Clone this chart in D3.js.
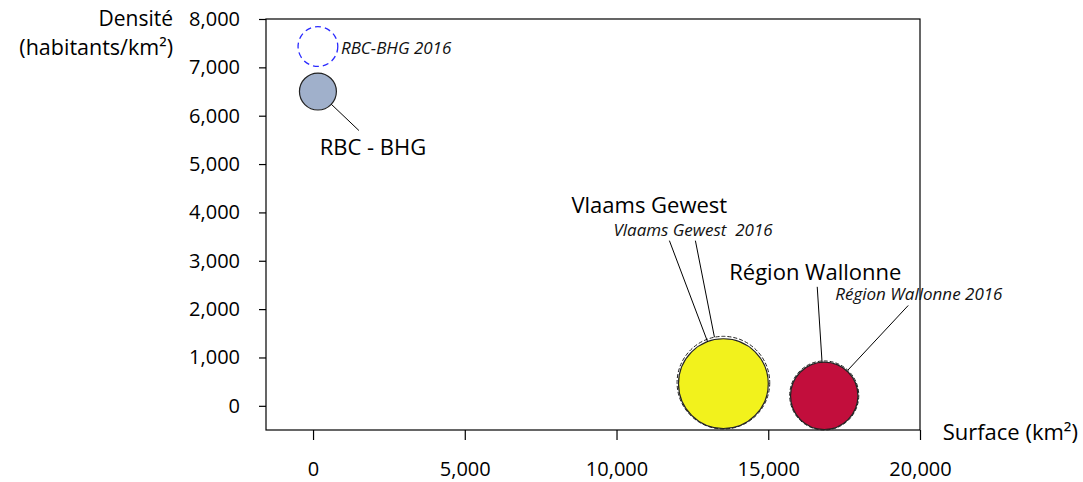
<!DOCTYPE html>
<html>
  <head>
    <style>
      body {margin: 0; background: #fff;}
      * {font-family: "Open Sans", sans-serif;}
    </style>
    <script src="https://d3js.org/d3.v7.min.js"></script>
  </head>
  <body>
    <div id="chart"></div>
    <script>
      // data
      const regions     = ["RBC - BHG", "Vlaams Gewest", "Région Wallonne"]
      const labels2016  = ["RBC-BHG 2016", "Vlaams Gewest\u00a0 2016", "Région Wallonne 2016"]
      const surface     = [161, 13522, 16844]        // km²
      const densityBase = [6500, 459, 207]           // habitants/km²
      const density2016 = [7430, 479, 214]
      const popBase     = [1.03, 6.08, 3.43]         // millions
      const pop2016     = [1.19, 6.48, 3.60]
      const fills       = ["#a0b0cb", "#f2f21c", "#c20e3c"]
      const xTicks = [0, 5000, 10000, 15000, 20000]
      const yTicks = [0, 1000, 2000, 3000, 4000, 5000, 6000, 7000, 8000]

      var w = 1083, h = 482
      margin = ({top: 19, right: 163, bottom: 52, left: 266})

      const x = d3.scaleLinear().domain([-1550, 20000]).range([margin.left, w - margin.right])
      const y = d3.scaleLinear().domain([-500, 8000]).range([h - margin.bottom, margin.top])
      const r = d3.scaleSqrt().domain([0, 1]).range([0, 18.2])

      // label / leader layout, offsets in px from the bubble centre
      const nameOff   = [[55, 63, "middle"], [-152, -171, "start"], [-95, -116, "start"]]
      const yearOff   = [[23, 7], [-110, -147], [11, -95]]
      const leadBase  = [[41, 39], [-54, -143], [-7, -109]]
      const lead2016  = [null, [-28, -142], [84, -90]]

      var svg = d3.select("#chart").append("svg")
        .attr("width", w).attr("height", h)

      // plot box
      svg.append("rect")
        .attr("x", margin.left).attr("y", margin.top)
        .attr("width", w - margin.right - margin.left)
        .attr("height", h - margin.bottom - margin.top)
        .style("fill", "none").style("stroke", "#000").style("stroke-width", 1.2)

      // y axis
      const yAxis = svg.append("g")
        .attr("transform", "translate(" + margin.left + ",0)")
        .call(d3.axisLeft(y).tickValues(yTicks).tickSize(7).tickPadding(19).tickFormat(d3.format(",")))
      yAxis.select(".domain").remove()
      yAxis.selectAll("text").style("font-size", "20px").style("fill", "#000")
      yAxis.selectAll("line").style("stroke", "#000").style("stroke-width", 1.2)

      // x axis
      const xAxis = svg.append("g")
        .attr("transform", "translate(0," + (h - margin.bottom) + ")")
        .call(d3.axisBottom(x).tickValues(xTicks).tickSize(10).tickPadding(22).tickFormat(d3.format(",")))
      xAxis.select(".domain").remove()
      xAxis.selectAll("text").style("font-size", "20px").style("fill", "#000")
      xAxis.selectAll("line").style("stroke", "#000").style("stroke-width", 1.2)

      // axis titles
      svg.append("text").attr("x", 173).attr("y", 26).attr("text-anchor", "end")
        .style("font-size", "21px").text("Densité")
      svg.append("text").attr("x", 173).attr("y", 55).attr("text-anchor", "end")
        .style("font-size", "21.5px").text("(habitants/km²)")
      svg.append("text").attr("x", 1078).attr("y", 440).attr("text-anchor", "end")
        .style("font-size", "22px").text("Surface (km²)")

      const idx = d3.range(regions.length)

      // solid bubbles (earlier year)
      svg.selectAll(".base").data(idx).enter().append("circle")
        .attr("class", "base")
        .attr("cx", i => x(surface[i]))
        .attr("cy", i => y(densityBase[i]))
        .attr("r", i => r(popBase[i]))
        .style("fill", i => fills[i])
        .style("stroke", "#222").style("stroke-width", 1.2)

      // dashed bubbles (2016)
      svg.selectAll(".y2016").data(idx).enter().append("circle")
        .attr("class", "y2016")
        .attr("cx", i => x(surface[i]))
        .attr("cy", i => y(density2016[i]))
        .attr("r", i => r(pop2016[i]))
        .style("fill", "none")
        .style("stroke", i => i == 0 ? "#2a2aff" : "#222")
        .style("stroke-width", i => i == 0 ? 1.3 : 1)
        .style("stroke-dasharray", i => i == 0 ? "6,4" : "4,2")

      // leader lines: from label point to the bubble edge
      function leader(cx, cy, rad, off) {
        const sx = cx + off[0], sy = cy + off[1]
        const len = Math.hypot(off[0], off[1])
        svg.append("line")
          .attr("x1", sx).attr("y1", sy)
          .attr("x2", cx + off[0] / len * rad).attr("y2", cy + off[1] / len * rad)
          .style("stroke", "#000").style("stroke-width", 1)
      }
      idx.forEach(i => {
        leader(x(surface[i]), y(densityBase[i]), r(popBase[i]), leadBase[i])
        if (lead2016[i]) leader(x(surface[i]), y(density2016[i]), r(pop2016[i]), lead2016[i])
      })

      // region names
      svg.selectAll(".name").data(idx).enter().append("text")
        .attr("class", "name")
        .attr("x", i => x(surface[i]) + nameOff[i][0])
        .attr("y", i => y(densityBase[i]) + nameOff[i][1])
        .attr("text-anchor", i => nameOff[i][2])
        .style("font-size", "22px").style("fill", "#000")
        .text(i => regions[i])

      // 2016 labels
      svg.selectAll(".yr").data(idx).enter().append("text")
        .attr("class", "yr")
        .attr("x", i => x(surface[i]) + yearOff[i][0])
        .attr("y", i => y(density2016[i]) + yearOff[i][1])
        .style("font-size", "17px").style("font-style", "italic").style("fill", "#111")
        .text(i => labels2016[i])
    </script>
  </body>
</html>
